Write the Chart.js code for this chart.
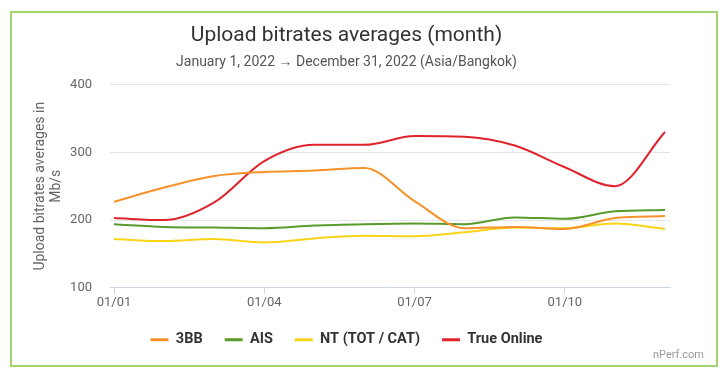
<!DOCTYPE html>
<html lang="en">
<head>
    <meta charset="UTF-8">
    <title>Upload bitrates averages (month)</title>
    <style>
        body { margin: 0; background: #fff; }
        #wrap { position: relative; width: 728px; height: 376px; }
        #frame {
            position: absolute; left: 10px; top: 11px; width: 704px; height: 352px;
            border: 2px solid #a3d36d; pointer-events: none;
        }
        #credit {
            position: absolute; right: 24px; top: 348px;
            font: 11px Roboto, sans-serif; color: #999;
        }
    </style>
    <script src="https://cdn.jsdelivr.net/npm/chart.js"></script>
</head>
<body>
    <div id="wrap">
        <canvas id="grafico"></canvas>
        <div id="frame"></div>
        <div id="credit">nPerf.com</div>
    </div>

    <script>
        // months (first day of each month)
        const mois = ['01/01', '01/02', '01/03', '01/04', '01/05', '01/06',
                      '01/07', '01/08', '01/09', '01/10', '01/11', '01/12'];
        const tickMois = [0, 3, 6, 9];

        const val3BB = [227, 248, 265, 271, 273, 277, 228, 188, 190, 187, 203, 206];
        const valAIS = [194, 190, 189, 188, 192, 194, 195, 194, 204, 202, 213, 215];
        const valNT = [172, 169, 172, 167, 173, 177, 176, 182, 189, 188, 195, 187];
        const valTrue = [203, 200, 226, 287, 311, 311, 324, 323, 310, 278, 250, 330];

        function serie(label, vals, color) {
            return {
                label: label,
                data: vals.map((v, i) => ({ x: i, y: v })),
                borderColor: color,
                backgroundColor: color,
                borderWidth: 2,
                pointRadius: 0,
                cubicInterpolationMode: 'monotone',
                fill: false
            };
        }

        const ctx = document.getElementById('grafico').getContext('2d');
        new Chart(ctx, {
            type: 'line',
            data: {
                datasets: [
                    serie('3BB', val3BB, '#f7922a'),
                    serie('AIS', valAIS, '#5a9a2b'),
                    serie('NT (TOT / CAT)', valNT, '#f8d418'),
                    serie('True Online', valTrue, '#e0232b')
                ]
            },
            options: {
                responsive: true,
                maintainAspectRatio: false,
                animation: false,
                layout: { padding: { left: 23, right: 58, top: 0, bottom: 19 } },
                plugins: {
                    title: {
                        display: true,
                        text: 'Upload bitrates averages (month)',
                        color: '#333',
                        font: { family: 'Roboto', size: 21, weight: 'normal' },
                        padding: { top: 23, bottom: 6 }
                    },
                    subtitle: {
                        display: true,
                        text: 'January 1, 2022 \u2192 December 31, 2022 (Asia/Bangkok)',
                        color: '#555',
                        font: { family: 'Roboto', size: 14 },
                        padding: { top: 0, bottom: 13.5 }
                    },
                    legend: {
                        position: 'bottom',
                        labels: {
                            boxWidth: 18,
                            boxHeight: 3,
                            padding: 22,
                            color: '#333',
                            font: { family: 'Roboto', size: 14.5, weight: 'bold' },
                            generateLabels: (chart) =>
                                Chart.defaults.plugins.legend.labels.generateLabels(chart)
                                    .map(l => Object.assign(l, { lineWidth: 0 }))
                        }
                    },
                    tooltip: { enabled: false }
                },
                scales: {
                    x: {
                        type: 'linear',
                        min: -0.08,
                        max: 11.1,
                        afterBuildTicks: (axis) => {
                            axis.ticks = tickMois.map(v => ({ value: v }));
                        },
                        afterFit: (axis) => { axis.height -= 1; },
                        ticks: {
                            autoSkip: false,
                            maxRotation: 0,
                            color: '#666',
                            font: { family: 'Roboto', size: 13 },
                            padding: 1,
                            callback: (v) => mois[v]
                        },
                        grid: {
                            drawOnChartArea: false,
                            drawTicks: true,
                            tickLength: 6,
                            color: '#ccd6eb'
                        },
                        border: { color: '#ccd6eb', width: 1 }
                    },
                    y: {
                        min: 100,
                        max: 400,
                        afterFit: (axis) => { axis.width = 87; },
                        ticks: {
                            stepSize: 100,
                            color: '#666',
                            font: { family: 'Roboto', size: 13 },
                            padding: 18
                        },
                        grid: { color: '#e6e6e6', drawTicks: false },
                        border: { display: false },
                        title: {
                            display: true,
                            text: ['Upload bitrates averages in', 'Mb/s'],
                            color: '#666',
                            font: { family: 'Roboto', size: 14, lineHeight: 1.1 },
                            padding: { top: 10, bottom: 0 }
                        }
                    }
                }
            }
        });
    </script>
</body>
</html>
